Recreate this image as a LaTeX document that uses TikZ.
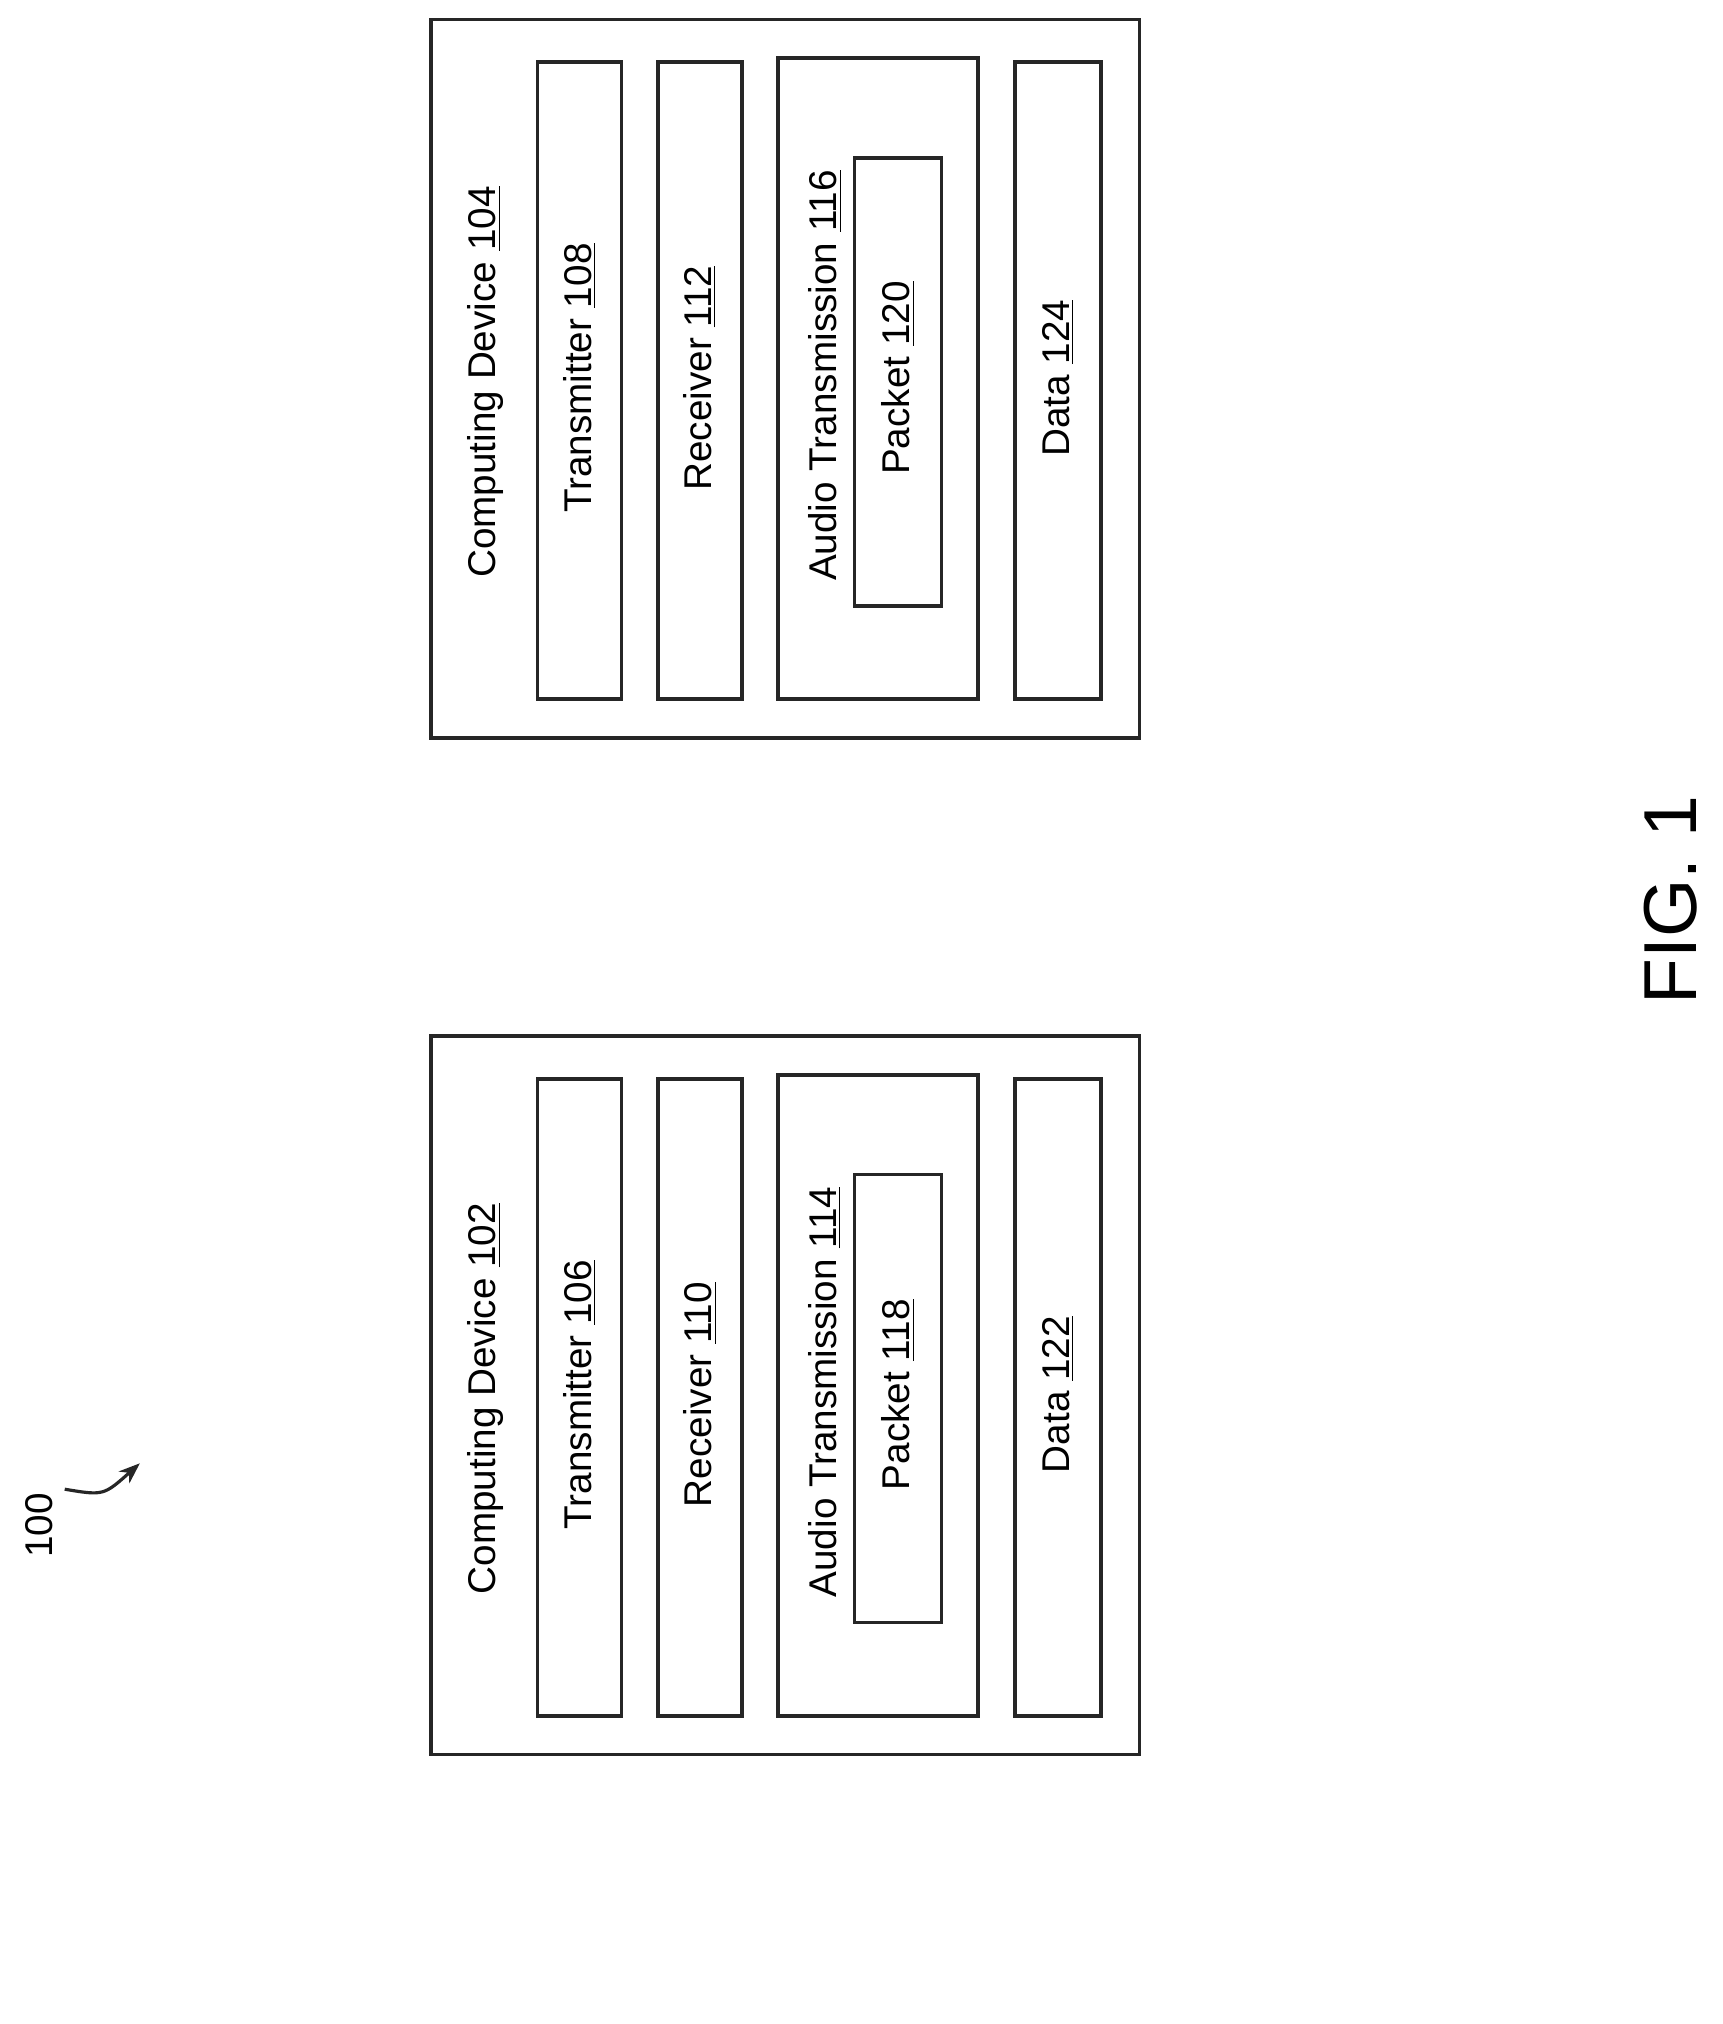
\documentclass[tikz,border=0pt]{standalone}
\usepackage{fontspec}
\setmainfont{Liberation Sans}
\usetikzlibrary{arrows.meta}
\tikzset{
  box/.style={draw=black!85, line width=1.6pt, inner sep=0pt},
  lbl/.style={rotate=90, font=\fontsize{17}{20}\selectfont, inner sep=0pt}
}
\begin{document}
\begin{tikzpicture}[x=0.02cm, y=-0.02cm, >=Stealth]
  \useasboundingbox (0,0) rectangle (1330,1563);
  % two computing devices
  \foreach \t/\n/\a/\b/\c/\d/\e/\f in {15/R/104/108/112/116/120/124, 800/L/102/106/110/114/118/122}{
    \node[box, minimum width=547*0.02cm, minimum height=555*0.02cm] (dev\n) at (606.5,\t+277.5) {};
    \node[box, minimum width=65*0.02cm, minimum height=492*0.02cm] (tx\n) at (447.5,\t+279) {};
    \node[box, minimum width=65*0.02cm, minimum height=492*0.02cm] (rx\n) at (540.5,\t+279) {};
    \node[box, minimum width=154*0.02cm, minimum height=495*0.02cm] (audio\n) at (678,\t+277.5) {};
    \node[box, minimum width=67*0.02cm, minimum height=346*0.02cm] (pkt\n) at (693.5,\t+280) {};
    \node[box, minimum width=66*0.02cm, minimum height=492*0.02cm] (data\n) at (817,\t+279) {};
    \node[lbl] (devlbl\n) at (375,\t+280) {Computing Device \underline{\a}};
    \node[lbl] (txlbl\n) at (447.5,\t+277) {Transmitter \underline{\b}};
    \node[lbl] (rxlbl\n) at (540.5,\t+277) {Receiver \underline{\c}};
    \node[lbl] (audiolbl\n) at (637,\t+275) {Audio Transmission \underline{\d}};
    \node[lbl] (pktlbl\n) at (693.5,\t+277) {Packet \underline{\e}};
    \node[lbl] (datalbl\n) at (817,\t+277) {Data \underline{\f}};
  }
  % figure label
  \node[rotate=90, font=\fontsize{33}{36}\selectfont, inner sep=0pt] (fig) at (1290,695) {FIG. 1};
  % reference numeral
  \node[lbl] (ref) at (30,1178) {100};
  \coordinate (refarrow) at (108,1130);
  \draw[->, line width=1.4pt, black!85] (50,1150) .. controls (80,1155) .. (refarrow);
\end{tikzpicture}
\end{document}
